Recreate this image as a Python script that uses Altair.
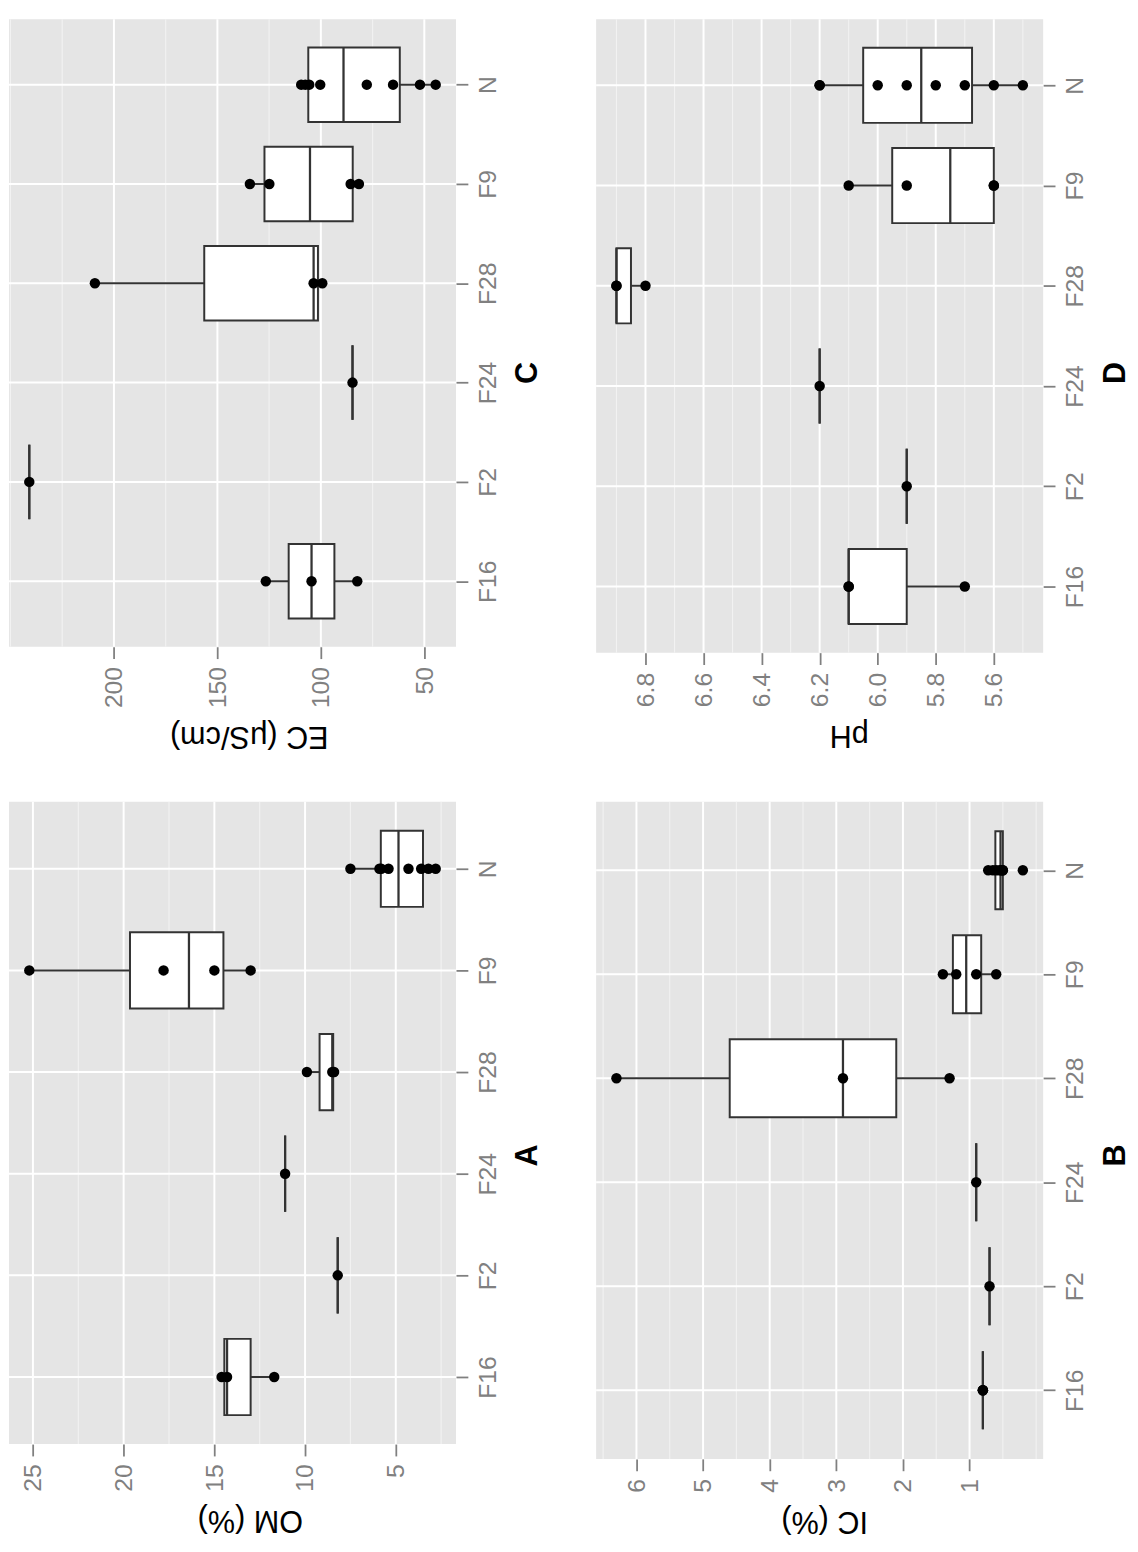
import altair as alt
import numpy as np
import pandas as pd

# ---------------- data ----------------
CATEGORIES = ["F16", "F2", "F24", "F28", "F9", "N"]

OM = {  # OM (%)  panel A
    "F16": [14.6, 14.3, 11.7],
    "F2": [8.2],
    "F24": [11.1],
    "F28": [9.9, 8.5, 8.4],
    "F9": [25.2, 17.8, 15.0, 13.0],
    "N": [7.5, 5.9, 5.8, 5.4, 4.3, 3.6, 3.2, 2.8],
}
IC = {  # IC (%)  panel B
    "F16": [0.8, 0.8, 0.8],
    "F2": [0.7],
    "F24": [0.9],
    "F28": [6.3, 2.9, 1.3],
    "F9": [1.4, 1.2, 0.9, 0.6],
    "N": [0.72, 0.65, 0.6, 0.55, 0.52, 0.5, 0.5, 0.2],
}
EC = {  # EC (uS/cm)  panel C
    "F16": [126.6, 104.5, 82.4],
    "F2": [240.9],
    "F24": [84.7],
    "F28": [209.2, 103.5, 99.3],
    "F9": [134.3, 124.9, 85.6, 81.6],
    "N": [109.5, 107.5, 105.6, 100.3, 77.8, 65.1, 52.1, 44.5],
}
PH = {  # pH  panel D
    "F16": [6.1, 6.1, 5.7],
    "F2": [5.9],
    "F24": [6.2],
    "F28": [6.9, 6.9, 6.8],
    "F9": [6.1, 5.9, 5.6, 5.6],
    "N": [6.2, 6.2, 6.0, 5.9, 5.8, 5.7, 5.6, 5.5],
}

OM_MAJOR = [5, 10, 15, 20, 25]
OM_MINOR = [2.5, 7.5, 12.5, 17.5, 22.5]
IC_MAJOR = [1, 2, 3, 4, 5, 6]
IC_MINOR = [0, 0.5, 1.5, 2.5, 3.5, 4.5, 5.5, 6.5]
EC_MAJOR = [50, 100, 150, 200]
EC_MINOR = [75, 125, 175, 225, 250]
PH_MAJOR = [5.6, 5.8, 6.0, 6.2, 6.4, 6.6, 6.8]
PH_MINOR = [5.5, 5.7, 5.9, 6.1, 6.3, 6.5, 6.7, 6.9]

# ---------------- styling ----------------
FONT = "Liberation Sans"
GREY = "#808080"
BOXC = "#333333"
BG = "#E5E5E5"
MINORC = "#F2F2F2"


def box_stats(groups):
    rows = []
    for i, cat in enumerate(CATEGORIES, start=1):
        v = np.array(groups[cat], dtype=float)
        q1, med, q3 = np.percentile(v, [25, 50, 75])
        iqr = q3 - q1
        lo = v[v >= q1 - 1.5 * iqr].min()
        hi = v[v <= q3 + 1.5 * iqr].max()
        rows.append(dict(cat=cat, idx=i, q1=q1, med=med, q3=q3, lo=lo, hi=hi))
    return pd.DataFrame(rows)


def points(groups):
    rows = []
    for i, cat in enumerate(CATEGORIES, start=1):
        for v in groups[cat]:
            rows.append(dict(cat=cat, idx=i, value=v))
    return pd.DataFrame(rows)


def panel(groups, major, minor, title, letter, width, height, title_x):
    stats = box_stats(groups)
    pts = points(groups)
    allv = pts["value"].tolist()
    lo, hi = min(allv), max(allv)
    pad = 0.05 * (hi - lo)

    xscale = alt.Scale(domain=[lo - pad, hi + pad], reverse=True, nice=False, zero=False)
    yscale = alt.Scale(domain=[0.34, 6.66], nice=False, zero=False)

    xaxis = alt.Axis(
        values=major, orient="bottom", grid=False, domain=False,
        labelAngle=270, labelAlign="right", labelBaseline="middle",
        labelFontSize=25, labelColor=GREY, labelFont=FONT, labelPadding=8,
        labelFlush=False, labelOverlap=False,
        tickColor=GREY, tickWidth=1.8, tickSize=12,
        title=title, titleAngle=180, titleBaseline="bottom", titleAlign="center",
        titleFontSize=31, titleFont=FONT, titleFontWeight="normal",
        titleColor="black", titlePadding=12, titleX=title_x,
    )
    label_arr = "[''," + ",".join("'%s'" % c for c in CATEGORIES) + "]"
    yaxis = alt.Axis(
        values=list(range(1, len(CATEGORIES) + 1)), orient="right",
        grid=False, domain=False,
        labelExpr=label_arr + "[datum.value]",
        labelAngle=270, labelAlign="center", labelBaseline="top",
        labelFontSize=25, labelColor=GREY, labelFont=FONT, labelPadding=8,
        labelFlush=False, labelOverlap=False,
        tickColor=GREY, tickWidth=1.8, tickSize=12,
        title=letter, titleAngle=270, titleBaseline="top", titleAlign="center",
        titleFontSize=31, titleFont=FONT, titleFontWeight="bold",
        titleColor="black", titlePadding=13, titleY=358,
    )

    def X(f):
        return alt.X(f, type="quantitative", scale=xscale, axis=xaxis)

    def Y(f):
        return alt.Y(f, type="quantitative", scale=yscale, axis=yaxis)

    minor_df = pd.DataFrame({"v": minor})
    major_df = pd.DataFrame({"v": major})
    cat_df = pd.DataFrame({"i": list(range(1, len(CATEGORIES) + 1))})

    l_minor = alt.Chart(minor_df).mark_rule(color=MINORC, strokeWidth=1.1).encode(x=X("v"))
    l_major = alt.Chart(major_df).mark_rule(color="white", strokeWidth=2).encode(x=X("v"))
    l_cat = alt.Chart(cat_df).mark_rule(color="white", strokeWidth=2).encode(y=Y("i"))

    whisk = alt.Chart(stats).mark_rule(color=BOXC, strokeWidth=2).encode(
        x=X("lo"), x2=alt.X2("hi"), y=Y("idx"))
    boxes = alt.Chart(stats).transform_calculate(
        ylo="datum.idx - 0.375", yhi="datum.idx + 0.375"
    ).mark_rect(fill="white", stroke=BOXC, strokeWidth=2).encode(
        x=X("q1"), x2=alt.X2("q3"), y=Y("ylo"), y2=alt.Y2("yhi"))
    meds = alt.Chart(stats).transform_calculate(
        ylo="datum.idx - 0.375", yhi="datum.idx + 0.375"
    ).mark_rule(color=BOXC, strokeWidth=2.3).encode(
        x=X("med"), y=Y("ylo"), y2=alt.Y2("yhi"))
    dots = alt.Chart(pts).mark_circle(size=112, color="black", opacity=1).encode(
        x=X("value"), y=Y("idx"))

    return alt.layer(l_minor, l_major, l_cat, whisk, boxes, meds, dots).properties(
        width=width, height=height)


W = 453
pC = panel(EC, EC_MAJOR, EC_MINOR, "EC (\u03bcS/cm)", "C", W, 636, 243)
pD = panel(PH, PH_MAJOR, PH_MINOR, "pH", "D", W, 642, 256)
pA = panel(OM, OM_MAJOR, OM_MINOR, "OM (%)", "A", W, 651, 244)
pB = panel(IC, IC_MAJOR, IC_MINOR, "IC (%)", "B", W, 666, 231)

chart = alt.concat(
    pC, pD, pA, pB, columns=2, bounds="flush",
    spacing=alt.RowColnumber(row=151, column=142),
).properties(padding=0).configure_view(fill=BG, strokeWidth=0)

chart.save("out.html", embed_options={"renderer": "svg", "actions": False})
